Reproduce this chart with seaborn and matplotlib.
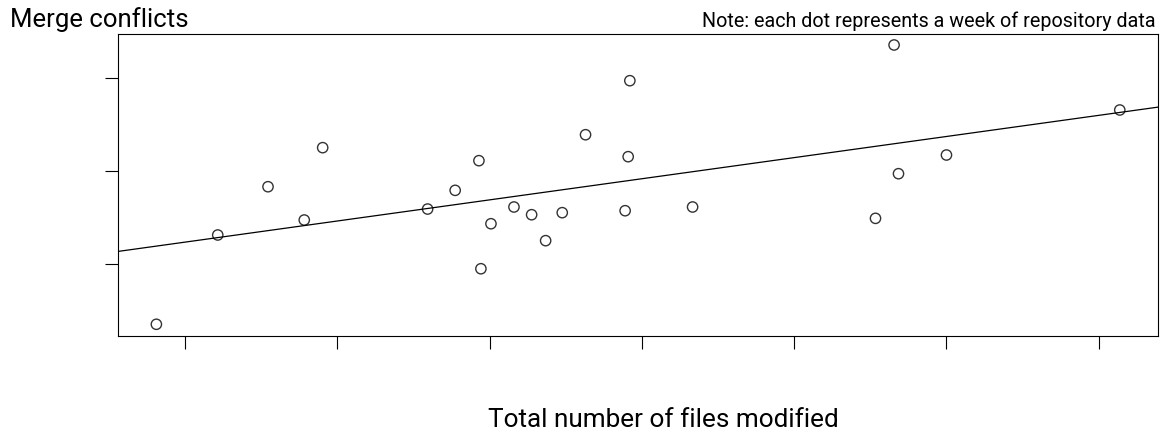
import matplotlib
matplotlib.use("Agg")
import matplotlib.pyplot as plt
import seaborn as sns
import pandas as pd

# Data (arbitrary units; the chart shows no tick labels)
files_modified = [8.12, 12.15, 15.45, 17.83, 19.04, 25.93, 27.74, 29.30, 29.43, 30.09,
                  31.60, 32.76, 33.68, 34.77, 36.30, 38.90, 39.10, 39.21, 43.33, 55.34,
                  56.56, 56.85, 60.00, 71.38]
merge_conflicts = [3.52, 13.12, 18.31, 14.73, 22.51, 15.91, 17.92, 21.11, 9.49, 14.33,
                   16.13, 15.30, 12.51, 15.52, 23.90, 15.73, 21.54, 29.71, 16.13, 14.91,
                   33.55, 19.71, 21.72, 26.56]
x_ticks = [10, 20, 30, 40, 50, 60, 70]
y_ticks = [10, 20, 30]

df = pd.DataFrame({"files": files_modified, "conflicts": merge_conflicts})

sns.set_style("white")
plt.rcParams["font.family"] = ["Roboto", "DejaVu Sans"]

fig = plt.figure(figsize=(11.66, 4.32), dpi=100)
ax = fig.add_axes([118 / 1166, 1 - 336 / 432, (1158 - 118) / 1166, (336 - 34) / 432])
ax.set_xlim(5.60, 73.89)
ax.set_ylim(2.26, 34.73)

sns.regplot(data=df, x="files", y="conflicts", ax=ax, ci=None, truncate=False,
            scatter_kws=dict(s=55, facecolor="none", edgecolor="black", linewidths=1.0),
            line_kws=dict(color="black", linewidth=0.9))
ax.set_xlim(5.60, 73.89)
ax.set_ylim(2.26, 34.73)

ax.set_xticks(x_ticks)
ax.set_yticks(y_ticks)
ax.set_xticklabels([])
ax.set_yticklabels([])
ax.tick_params(axis="both", direction="out", length=9.5, width=0.8, color="black",
               bottom=True, left=True)
for sp in ax.spines.values():
    sp.set_visible(True)
    sp.set_color("black")
    sp.set_linewidth(0.8)
ax.set_xlabel("")
ax.set_ylabel("")

fig.text(10 / 1166, 1 - 26.7 / 432, "Merge conflicts", fontsize=18.5, ha="left",
         va="baseline", color="black")
fig.text(1156 / 1166, 1 - 26.7 / 432, "Note: each dot represents a week of repository data",
         fontsize=14.2, ha="right", va="baseline", color="black")
fig.text(663 / 1166, 1 - 427 / 432, "Total number of files modified", fontsize=18.8,
         ha="center", va="baseline", color="black")

fig.savefig("out.png", dpi=100)
